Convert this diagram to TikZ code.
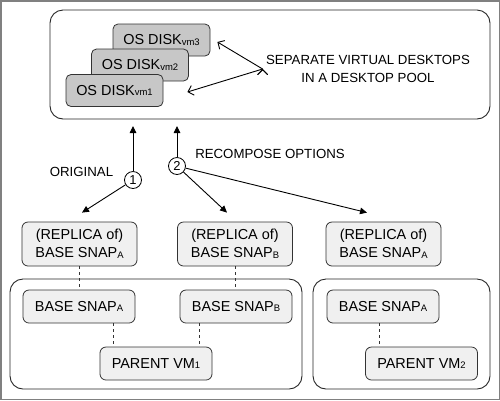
\documentclass[tikz,border=0pt]{standalone}
\usepackage{fontspec}
\setmainfont{Liberation Sans}
\usetikzlibrary{arrows.meta}

\newcommand{\subtxt}[1]{\raisebox{-0.8bp}{\fontsize{9.5}{9.5}\selectfont #1}}

\begin{document}
\begin{tikzpicture}[x=1bp, y=-1bp,
		disk_style/.style={rectangle,rounded corners=5bp,draw=black!80,fill=black!22,minimum width=97bp,minimum height=32bp,inner sep=0pt,line width=0.8bp,font=\fontsize{14.5}{16}\selectfont},
		snap_style/.style={rectangle,rounded corners=6bp,draw=black!80,fill=black!6,minimum width=112bp,minimum height=33bp,inner sep=0pt,line width=0.8bp,font=\fontsize{14.5}{16}\selectfont},
		rep_style/.style={snap_style,minimum width=115bp,minimum height=44bp,align=center,font=\fontsize{14.5}{18}\selectfont},
		group_style/.style={draw=black!85,rounded corners=13bp,line width=0.9bp},
		num_style/.style={circle,draw=black,fill=white,inner sep=0pt,minimum size=17bp,line width=0.8bp,font=\fontsize{13}{13}\selectfont},
		note_style/.style={align=center,font=\fontsize{13.3}{18}\selectfont},
		arrow_style/.style={draw=black,line width=0.9bp,-{Triangle[length=7bp,width=6.5bp]}},
		open_style/.style={draw=black,line width=0.9bp,-{Straight Barb[length=5bp,width=10bp]}},
		dash_style/.style={draw=black!80,line width=0.8bp,dash pattern=on 3bp off 3bp}]

		\useasboundingbox (0,0) rectangle (500,400);
		\draw[black!50, line width=1.5bp] (0.75,0.75) rectangle (499.25,399.25);

		% desktop pool
		\draw[group_style] (50,10) rectangle (490,119);
		\node[disk_style] (vm3) at (161.5,40)  {OS DISK\subtxt{vm3}};
		\node[disk_style] (vm2) at (140,65)  {OS DISK\subtxt{vm2}};
		\node[disk_style] (vm1) at (114.5,90.5)  {OS DISK\subtxt{vm1}};
		\node[note_style] (sep) at (368,69)  {SEPARATE VIRTUAL DESKTOPS\\IN A DESKTOP POOL};

		% parent vm groups
		\draw[group_style] (10,279) rectangle (302,389);
		\draw[group_style] (313,279) rectangle (490,389);

		\node[rep_style] (rep1) at (79.5,244)  {(REPLICA of)\\BASE SNAP\subtxt{A}};
		\node[rep_style] (rep2) at (235,244)  {(REPLICA of)\\BASE SNAP\subtxt{B}};
		\node[rep_style] (rep3) at (383.5,244)  {(REPLICA of)\\BASE SNAP\subtxt{A}};

		\node[snap_style] (bsA) at (79,306.5)  {BASE SNAP\subtxt{A}};
		\node[snap_style] (bsB) at (236,306.5)  {BASE SNAP\subtxt{B}};
		\node[snap_style] (pv1) at (156,363.5)  {PARENT VM\subtxt{1}};
		\node[snap_style] (bsA2) at (383,306.5)  {BASE SNAP\subtxt{A}};
		\node[snap_style] (pv2) at (421.5,363.5)  {PARENT VM\subtxt{2}};

		\node[num_style] (c1) at (133,180)  {1};
		\node[num_style] (c2) at (177,166)  {2};
		\node[note_style] (orig) at (81.5,172)  {ORIGINAL};
		\node[note_style] (recomp) at (270,154)  {RECOMPOSE OPTIONS};

		\draw[open_style]  (sep.west) edge ([xshift=7bp,yshift=-2bp]vm3.east);
		\draw[open_style]  (sep.west) edge ([xshift=24bp,yshift=-1.5bp]vm1.east);

		\draw[arrow_style]  (c1) edge ([yshift=-7bp]c1 |- 0,119);
		\draw[arrow_style]  (c2) edge ([yshift=-7bp]c2 |- 0,119);
		\draw[arrow_style]  (c1) edge ([xshift=2.5bp,yshift=9bp]rep1.north);
		\draw[arrow_style]  (c2) edge ([xshift=-8bp,yshift=9bp]rep2.north);
		\draw[arrow_style]  (c2) edge ([xshift=-16.5bp,yshift=9bp]rep3.north);

		\draw[dash_style]  (rep1.south) -- (rep1.south |- bsA.north);
		\draw[dash_style]  (rep2.south) -- (rep2.south |- bsB.north);
		\draw[dash_style]  ([xshift=34bp]bsA.south) -- ([xshift=34bp]bsA.south |- pv1.north);
		\draw[dash_style]  ([xshift=-37bp]bsB.south) -- ([xshift=-37bp]bsB.south |- pv1.north);
		\draw[dash_style]  ([xshift=-4bp]bsA2.south) -- ([xshift=-4bp]bsA2.south |- pv2.north);
\end{tikzpicture}
\end{document}
